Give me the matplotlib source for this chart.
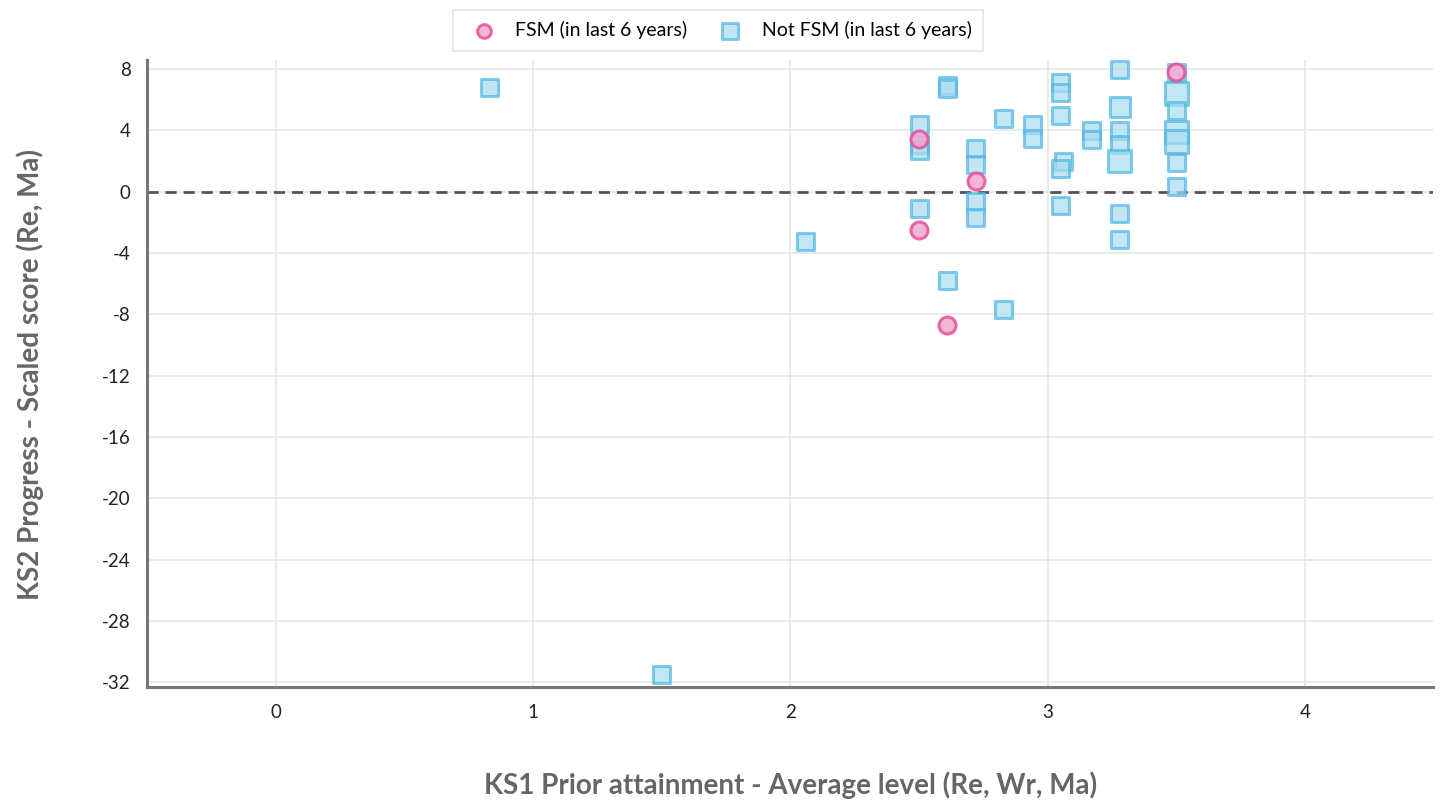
import matplotlib
matplotlib.use('Agg')
import matplotlib.pyplot as plt

plt.rcParams['font.family'] = ['Lato', 'DejaVu Sans']
plt.rcParams['axes.unicode_minus'] = False

# FSM pupils (circles)
fsm_x = [2.5, 2.5, 2.72, 2.61, 3.5]
fsm_y = [3.45, -2.5, 0.7, -8.7, 7.8]

# Not FSM pupils (squares), size = how many pupils share the point
not_x = [0.83, 1.5, 2.06,
         2.5, 2.5, 2.5, 2.5,
         2.61, 2.61, 2.61,
         2.72, 2.72, 2.72, 2.72,
         2.83, 2.83,
         2.94, 2.94,
         3.05, 3.05, 3.05, 3.06, 3.05, 3.05,
         3.17, 3.17,
         3.28, 3.28, 3.28, 3.28, 3.28, 3.28, 3.28,
         3.5, 3.5, 3.5, 3.5, 3.5, 3.5, 3.5]
not_y = [6.8, -31.5, -3.26,
         4.4, 3.1, 2.7, -1.1,
         6.9, 6.7, -5.8,
         2.8, 1.8, -0.65, -1.7,
         4.8, -7.7,
         4.4, 3.5,
         7.1, 6.5, 5.0, 2.0, 1.5, -0.9,
         4.0, 3.4,
         8.0, 5.5, 4.0, 3.1, 2.0, -1.45, -3.1,
         7.8, 6.4, 5.3, 3.9, 3.25, 1.9, 0.35]
not_n = [1, 1, 1,
         1, 1, 1, 1,
         1, 1, 1,
         1, 1, 1, 1,
         1, 1,
         1, 1,
         1, 1, 1, 1, 1, 1,
         1, 1,
         1, 2, 1, 1, 3, 1, 1,
         1, 3, 1, 3, 3, 1, 1]

x_ticks = [0, 1, 2, 3, 4]
y_ticks = [8, 4, 0, -4, -8, -12, -16, -20, -24, -28, -32]

fig = plt.figure(figsize=(14.45, 8.09), dpi=100)
ax = fig.add_axes([0.102, 0.151, 0.890, 0.775])

base = 150
ax.scatter(not_x, not_y, s=[base + (n - 1) * 60 for n in not_n], marker='s',
           facecolor='#aadcf2', edgecolor='#4fb6e2', linewidth=2.2, alpha=0.7,
           zorder=3, label='Not FSM (in last 6 years)')
ax.scatter(fsm_x, fsm_y, s=150, marker='o',
           facecolor='#f2a9cf', edgecolor='#e6509b', linewidth=2.2, alpha=0.85,
           zorder=4, label='FSM (in last 6 years)')

ax.axhline(0, color='#555555', linestyle=(0, (4, 2.5)), linewidth=2, zorder=2)

ax.set_xlim(-0.5, 4.5)
ax.set_ylim(-32.3, 8.6)
ax.set_xticks(x_ticks)
ax.set_yticks(y_ticks)
ax.grid(True, color='#e6e6e6', linewidth=1.2, zorder=0)
ax.set_axisbelow(True)
ax.tick_params(length=0, labelsize=13.5, colors='#222222', pad=12)

for s in ['top', 'right']:
    ax.spines[s].set_visible(False)
for s in ['left', 'bottom']:
    ax.spines[s].set_color('#777777')
    ax.spines[s].set_linewidth(2.2)

fig.text(0.547, 0.030, 'KS1 Prior attainment - Average level (Re, Wr, Ma)', fontsize=20,
         fontweight='bold', color='#666666', ha='center', va='center')
fig.text(0.021, 0.537, 'KS2 Progress - Scaled score (Re, Ma)', fontsize=20,
         fontweight='bold', color='#666666', ha='center', va='center', rotation=90)

h, l = ax.get_legend_handles_labels()
leg = fig.legend(h[::-1], l[::-1], loc='upper center', bbox_to_anchor=(0.497, 1.0),
                 ncol=2, fontsize=14, frameon=True, fancybox=False,
                 edgecolor='#dddddd', handletextpad=0.6, columnspacing=1.2,
                 markerscale=0.8, borderpad=0.6)
leg.get_frame().set_linewidth(1.2)

plt.savefig('out.png')
print('saved')
